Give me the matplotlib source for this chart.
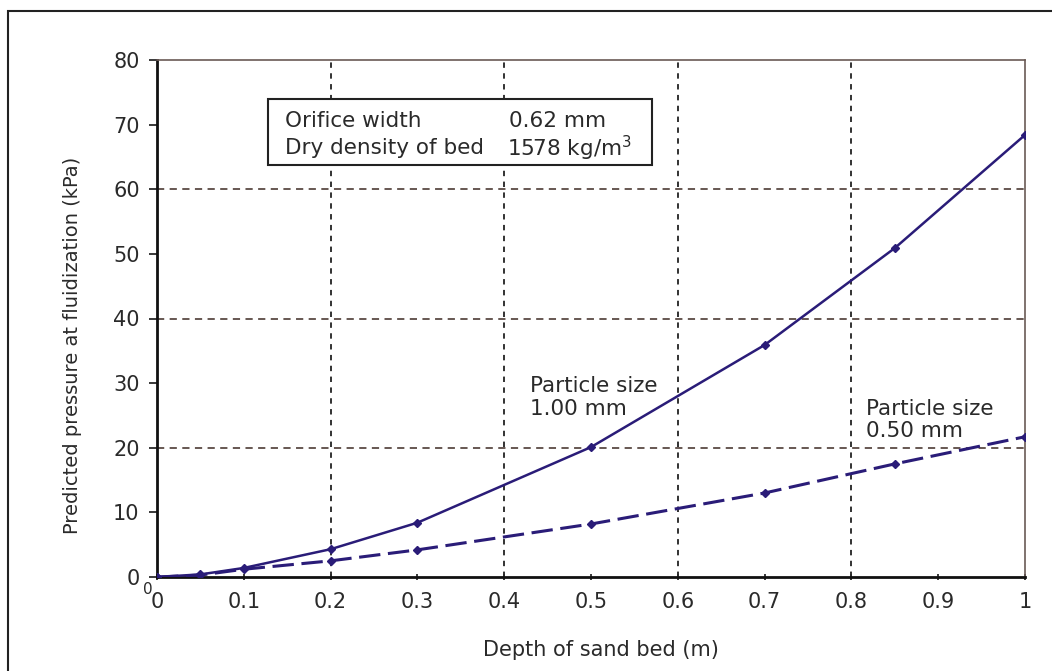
import matplotlib
matplotlib.use("Agg")
import matplotlib.pyplot as plt
from matplotlib.patches import Rectangle

plt.rcParams['font.family'] = ['DejaVu Sans']
plt.rcParams['mathtext.fontset'] = 'dejavusans'

# data
depth_100 = [0, 0.05, 0.1, 0.2, 0.3, 0.5, 0.7, 0.85, 1.0]
press_100 = [0, 0.4, 1.4, 4.3, 8.4, 20.1, 35.9, 50.9, 68.4]
depth_050 = [0, 0.05, 0.1, 0.2, 0.3, 0.5, 0.7, 0.85, 1.0]
press_050 = [0, 0.3, 1.2, 2.5, 4.2, 8.2, 13.0, 17.5, 21.7]
x_ticks = [0, 0.1, 0.2, 0.3, 0.4, 0.5, 0.6, 0.7, 0.8, 0.9, 1]
x_tick_labels = ["0", "0.1", "0.2", "0.3", "0.4", "0.5", "0.6", "0.7", "0.8", "0.9", "1"]
y_ticks = [0, 10, 20, 30, 40, 50, 60, 70, 80]
v_grid = [0.2, 0.4, 0.6, 0.8]
h_grid = [20, 40, 60]

line_color = "#2a1c78"
text_color = "#2a2a2a"
FS = 15

fig = plt.figure(figsize=(10.52, 6.71), dpi=100)
ax = fig.add_axes([157/1052, 1-577/671, (1025-157)/1052, (577-60)/671])

# outer frame
fig.patches.append(Rectangle((8/1052, -0.05), 1.2, 1 - 11/671 + 0.05, transform=fig.transFigure,
                             fill=False, edgecolor="#222222", linewidth=1.5))

for v in v_grid:
    ax.axvline(v, color="#222222", linestyle=(0, (3, 3)), linewidth=1.3, zorder=1)
for h in h_grid:
    ax.axhline(h, color="#5a4a44", linestyle=(0, (4, 3)), linewidth=1.3, zorder=1)

ax.plot(depth_100, press_100, color=line_color, linewidth=1.8, marker="D", markersize=4, zorder=3)
ax.plot(depth_050, press_050, color=line_color, linewidth=2.2, linestyle=(0, (7, 2.5)),
        marker="D", markersize=4, zorder=3)

ax.set_xlim(0, 1)
ax.set_ylim(0, 80)
ax.set_xticks(x_ticks)
ax.set_xticklabels(x_tick_labels)
ax.set_yticks(y_ticks)
ax.tick_params(axis='both', labelsize=FS, colors=text_color, length=6, width=1.3)
ax.tick_params(axis='x', direction='inout', length=5, pad=8)
ax.tick_params(axis='y', direction='out', pad=6.5)

for s in ['left', 'bottom']:
    ax.spines[s].set_linewidth(2)
    ax.spines[s].set_color("#111111")
for s in ['top', 'right']:
    ax.spines[s].set_linewidth(1.2)
    ax.spines[s].set_color("#6a5a55")

ax.set_xlabel("Depth of sand bed (m)", fontsize=FS, color=text_color)
ax.xaxis.set_label_coords((601-157)/868, -(640-577)/517)
ax.set_ylabel("Predicted pressure at fluidization (kPa)", fontsize=14, color=text_color)
ax.yaxis.set_label_coords(-(157-82)/868, (577-345)/517)

# extra small zero at the origin, as in the reference
ax.text(-0.011, -1.9, "0", fontsize=11, ha='center', va='center', color=text_color)

# info box
fig.patches.append(Rectangle((268/1052, 1-165/671), (652-268)/1052, 66/671, transform=fig.transFigure,
                             facecolor="white", edgecolor="#222222", linewidth=1.5, zorder=4))
fig.text(285/1052, 1-121/671, "Orifice width", fontsize=15.5, va='center', ha='left', color=text_color, zorder=5)
fig.text(285/1052, 1-148/671, "Dry density of bed", fontsize=15.5, va='center', ha='left', color=text_color, zorder=5)
fig.text(509/1052, 1-121/671, "0.62 mm", fontsize=15.5, va='center', ha='left', color=text_color, zorder=5)
fig.text(507/1052, 1-148/671, "1578 kg/m$^3$", fontsize=15.5, va='center', ha='left', color=text_color, zorder=5)

ax.text(0.43, 27.8, "Particle size\n1.00 mm", fontsize=15.5, ha='left', va='center',
        color=text_color, linespacing=1.15)
ax.text(0.817, 24.3, "Particle size\n0.50 mm", fontsize=15.5, ha='left', va='center',
        color=text_color, linespacing=1.15)

fig.savefig("out.png", dpi=100)
